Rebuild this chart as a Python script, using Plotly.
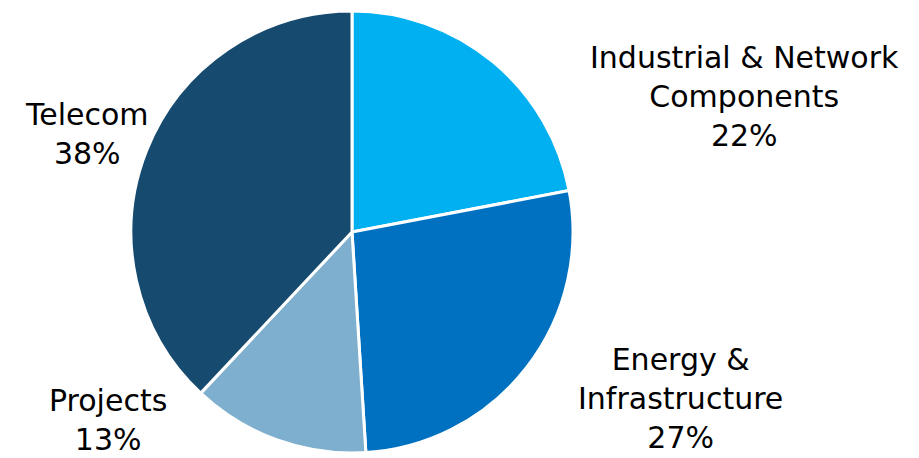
import plotly.graph_objects as go

categories = ["Industrial & Network<br>Components", "Energy &<br>Infrastructure", "Projects", "Telecom"]
values = [22, 27, 13, 38]
colors = ["#00B0F0", "#0070C0", "#7FAFCE", "#164A6E"]

W, H = 919, 458
# label positions in pixels (center of text block)
label_pos = [(744, 96), (680, 398), (108, 420), (87, 134)]

fig = go.Figure(go.Pie(
    labels=categories,
    values=values,
    sort=False,
    direction="clockwise",
    rotation=0,
    marker=dict(colors=colors, line=dict(color="white", width=3)),
    textinfo="none",
    hoverinfo="label+percent",
    domain=dict(x=[131 / W, 573 / W], y=[(H - 453) / H, (H - 11) / H]),
    showlegend=False,
))

for cat, val, (px, py) in zip(categories, values, label_pos):
    fig.add_annotation(
        x=px / W, y=1 - py / H, xref="paper", yref="paper",
        text=f"{cat}<br>{val}%", showarrow=False,
        xanchor="center", yanchor="middle", align="center",
        font=dict(family="DejaVu Sans", size=30, color="#000000"),
    )

fig.update_layout(
    width=W, height=H,
    margin=dict(l=0, r=0, t=0, b=0),
    paper_bgcolor="white", plot_bgcolor="white",
)

fig.write_html(
    "out.html",
    config={"displayModeBar": False},
    post_script="document.body.style.margin='0';document.body.style.overflow='hidden';",
)
